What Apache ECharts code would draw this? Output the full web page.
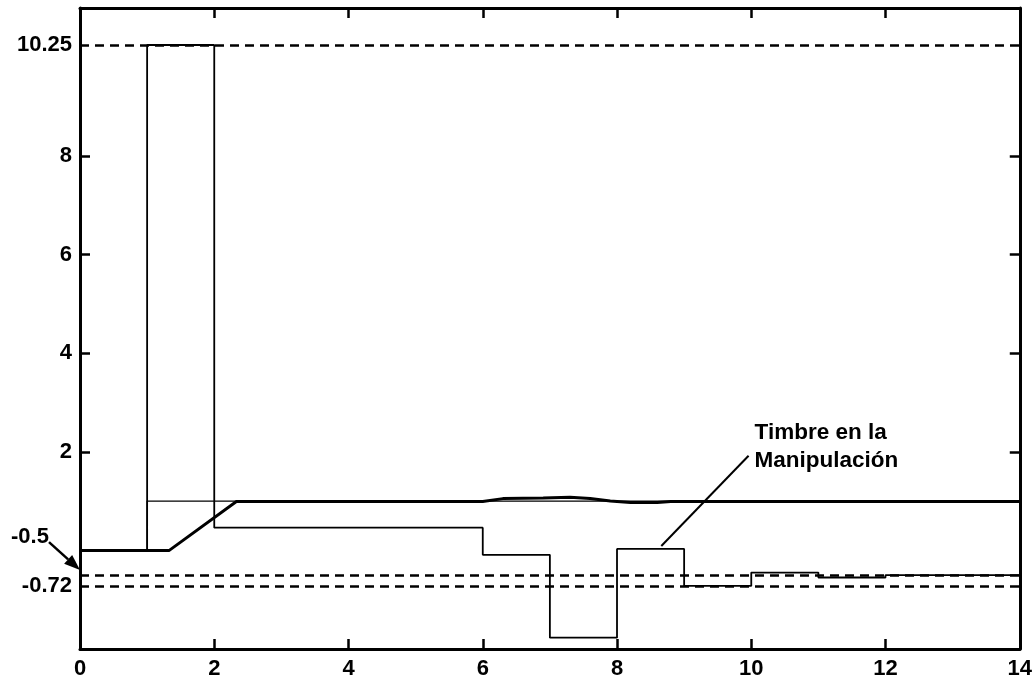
<!DOCTYPE html>
<html>

<head>
  <meta charset="utf-8">
  <title>Timbre en la Manipulación</title>
  <script src="https://cdn.jsdelivr.net/npm/echarts/dist/echarts.min.js"></script>
</head>

<body style="margin:0;background:#fff">
  <div id="main" style="width: 1035px;height:685px;"></div>
  <script type="text/javascript">
    // datos leídos de la figura
    // señal de control (manipulación), escalones: valor vale desde t hasta el siguiente t
    var ctrlT = [0, 1, 2, 6, 7, 8, 9, 10, 11, 12, 14];
    var ctrlU = [0, 10.25, 0.46, -0.09, -1.77, 0.03, -0.72, -0.45, -0.55, -0.5, -0.5];

    // referencia (escalón unitario en t=1)
    var refT = [0, 1, 14];
    var refY = [0, 1, 1];

    // salida del proceso
    var outT = [0, 1.33, 2.33, 6.0, 6.3, 6.9, 7.3, 7.6, 7.9, 8.2, 8.6, 8.8, 14];
    var outY = [0, 0, 0.99, 0.99, 1.05, 1.06, 1.08, 1.05, 1.0, 0.97, 0.97, 0.99, 0.99];

    // límites de saturación (líneas a trazos)
    var limits = [10.25, -0.5, -0.72];

    // etiquetas del eje y
    var yTicks = [2, 4, 6, 8];
    var yLabels = [10.25, 8, 6, 4, 2, -0.72];

    // anotación: flecha de "Timbre en la Manipulación"
    var notaDesde = [8.66, 0.09];
    var notaHasta = [9.96, 1.92];

    function zip(a, b) {
      return a.map(function (v, i) { return [v, b[i]]; });
    }

    var font = 'Liberation Sans';
    var myChart = echarts.init(document.getElementById('main'));

    var axisLine = { show: true, onZero: false, lineStyle: { color: '#000', width: 3 } };
    var tickStyle = { color: '#000', width: 2.5 };

    var option = {
      animation: false,
      backgroundColor: '#fff',
      grid: { left: 80, right: 13, top: 8, bottom: 36 },
      xAxis: [{
          type: 'value', min: 0, max: 14, interval: 2, position: 'bottom',
          axisLine: axisLine,
          axisTick: { inside: true, length: 10, lineStyle: tickStyle },
          axisLabel: { color: '#000', fontSize: 22, fontWeight: 'bold', fontFamily: font, margin: 9 },
          splitLine: { show: false }
        },
        {
          type: 'value', min: 0, max: 14, interval: 2, position: 'top',
          axisLine: axisLine,
          axisTick: { inside: true, length: 10, lineStyle: tickStyle },
          axisLabel: { show: false },
          splitLine: { show: false }
        }
      ],
      yAxis: [{
          type: 'value', min: -2, max: 11, position: 'left',
          axisLine: axisLine,
          axisTick: { show: true, inside: true, length: 10, lineStyle: tickStyle, customValues: yTicks },
          axisLabel: { color: '#000', fontSize: 22, fontWeight: 'bold', fontFamily: font, margin: 8, customValues: yLabels },
          splitLine: { show: false }
        },
        {
          type: 'value', min: -2, max: 11, position: 'right',
          axisLine: axisLine,
          axisTick: { show: true, inside: true, length: 10, lineStyle: tickStyle, customValues: yTicks },
          axisLabel: { show: false },
          splitLine: { show: false }
        }
      ],
      series: [{
          name: 'manipulacion',
          type: 'line',
          step: 'end',
          showSymbol: false,
          data: zip(ctrlT, ctrlU),
          lineStyle: { color: '#000', width: 1.8 },
          markLine: {
            silent: true,
            symbol: 'none',
            label: { show: false },
            lineStyle: { color: '#000', width: 2.5, type: [9, 6] },
            data: limits.map(function (v) { return { yAxis: v }; })
          }
        },
        {
          name: 'referencia',
          type: 'line',
          step: 'end',
          showSymbol: false,
          data: zip(refT, refY),
          lineStyle: { color: '#000', width: 1.2 }
        },
        {
          name: 'salida',
          type: 'line',
          showSymbol: false,
          data: zip(outT, outY),
          lineStyle: { color: '#000', width: 3 },
          z: 3
        }
      ]
    };

    myChart.setOption(option);

    // anotaciones (etiqueta -0.5 con flecha y texto del timbre)
    var tip = myChart.convertToPixel({ gridIndex: 0 }, [0, -0.4]);
    var from = [tip[0] - 31, tip[1] - 28];
    var ang = Math.atan2(tip[1] - from[1], tip[0] - from[0]);
    var hl = 16, hw = 6;
    var base = [tip[0] - hl * Math.cos(ang), tip[1] - hl * Math.sin(ang)];
    var head = [
      tip,
      [base[0] + hw * Math.sin(ang), base[1] - hw * Math.cos(ang)],
      [base[0] - hw * Math.sin(ang), base[1] + hw * Math.cos(ang)]
    ];

    var p0 = myChart.convertToPixel({ gridIndex: 0 }, notaDesde);
    var p1 = myChart.convertToPixel({ gridIndex: 0 }, notaHasta);

    myChart.setOption({
      graphic: [{
          type: 'line',
          shape: { x1: from[0], y1: from[1], x2: base[0], y2: base[1] },
          style: { stroke: '#000', lineWidth: 2.5 }
        },
        {
          type: 'polygon',
          shape: { points: head },
          style: { fill: '#000' }
        },
        {
          type: 'text',
          x: tip[0] - 50,
          y: tip[1] - 33,
          style: {
            text: '-0.5', fill: '#000', font: 'bold 22px "' + font + '"',
            align: 'center', verticalAlign: 'middle'
          }
        },
        {
          type: 'line',
          shape: { x1: p0[0], y1: p0[1], x2: p1[0], y2: p1[1] },
          style: { stroke: '#000', lineWidth: 2 }
        },
        {
          type: 'text',
          x: p1[0] + 6,
          y: p1[1] - 37,
          style: {
            text: 'Timbre en la\nManipulación', fill: '#000',
            font: 'bold 22.5px "' + font + '"',
            lineHeight: 28, align: 'left', verticalAlign: 'top'
          }
        }
      ]
    });
  </script>
</body>

</html>
